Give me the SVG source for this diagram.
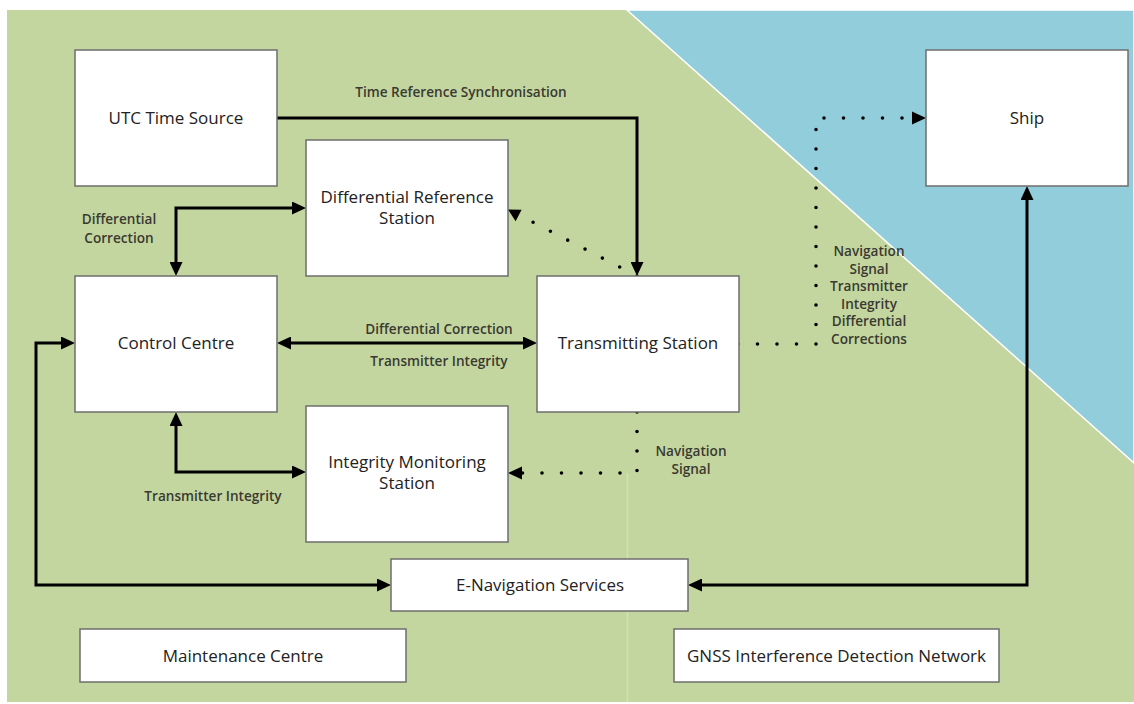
<svg xmlns="http://www.w3.org/2000/svg" width="1134" height="704" viewBox="0 0 1134 704">
<defs>
<style>
.box{fill:#ffffff;stroke:#6e6e6e;stroke-width:1.5}
.nt{font-family:"Open Sans","Liberation Sans",sans-serif;font-size:17px;fill:#222222;text-anchor:middle}
.lb{font-family:"Open Sans","Liberation Sans",sans-serif;font-size:13.6px;font-weight:600;fill:#3a3a32;text-anchor:middle}
.solid{fill:none;stroke:#000000;stroke-width:3}
.dot{fill:none;stroke:#000000;stroke-width:3.6;stroke-linecap:round;stroke-dasharray:0 19.5}
</style>
<marker id="ah" markerUnits="userSpaceOnUse" markerWidth="15" markerHeight="13" refX="0" refY="6.5" orient="auto-start-reverse">
<path d="M0,0 L14,6.5 L0,13 z" fill="#000000"/>
</marker>
</defs>
<rect x="0" y="0" width="1134" height="704" fill="#ffffff"/>
<rect x="7" y="10" width="1127" height="692" fill="#c4d69f"/>
<polygon points="627,10 1134,10 1134,463" fill="#92cddc" stroke="#ffffff" stroke-width="1.5"/>
<line x1="627.5" y1="473" x2="627.5" y2="702" stroke="#d3e0b6" stroke-width="1.5"/>

<g id="connectors">
<path class="solid" d="M277,118 H637 V262" marker-end="url(#ah)"/>
<path class="solid" d="M176,262 V208 H292" marker-start="url(#ah)" marker-end="url(#ah)"/>
<path class="solid" d="M291,343 H523" marker-start="url(#ah)" marker-end="url(#ah)"/>
<path class="solid" d="M176,426 V472 H292" marker-start="url(#ah)" marker-end="url(#ah)"/>
<path class="solid" d="M61,343 H36 V585 H377" marker-start="url(#ah)" marker-end="url(#ah)"/>
<path class="solid" d="M702,585 H1027 V200" marker-start="url(#ah)" marker-end="url(#ah)"/>
<path class="dot" d="M637,276 L521,216"/>
<polygon points="508,209.5 521.6,209.8 515.6,221.3" fill="#000000"/>
<path class="dot" d="M637,412 V473 H522"/>
<polygon points="508,473 522,466.5 522,479.5" fill="#000000"/>
<path class="dot" d="M738,344 H816 V118 H904"/>
<polygon points="926,118 912,111.5 912,124.5" fill="#000000"/>
<text class="lb" x="461" y="97">Time Reference Synchronisation</text>
<text class="lb" x="119" y="224">Differential</text>
<text class="lb" x="119" y="243">Correction</text>
<text class="lb" x="439" y="334">Differential Correction</text>
<text class="lb" x="439" y="366">Transmitter Integrity</text>
<text class="lb" x="213" y="501">Transmitter Integrity</text>
<text class="lb" x="691" y="456">Navigation</text>
<text class="lb" x="691" y="474">Signal</text>
<text class="lb" x="869" y="256">Navigation</text>
<text class="lb" x="869" y="273.5">Signal</text>
<text class="lb" x="869" y="291">Transmitter</text>
<text class="lb" x="869" y="308.5">Integrity</text>
<text class="lb" x="869" y="326">Differential</text>
<text class="lb" x="869" y="344">Corrections</text>
</g>

<g id="utc">
<rect class="box" x="75" y="50" width="202" height="136"/>
<text class="nt" x="176" y="124">UTC Time Source</text>
</g>
<g id="diffref">
<rect class="box" x="306" y="140" width="202" height="136"/>
<text class="nt" x="407" y="203">Differential Reference</text>
<text class="nt" x="407" y="224">Station</text>
</g>
<g id="control">
<rect class="box" x="75" y="276" width="202" height="136"/>
<text class="nt" x="176" y="349">Control Centre</text>
</g>
<g id="transmitting">
<rect class="box" x="537" y="276" width="202" height="136"/>
<text class="nt" x="638" y="349">Transmitting Station</text>
</g>
<g id="integrity">
<rect class="box" x="306" y="406" width="202" height="136"/>
<text class="nt" x="407" y="468">Integrity Monitoring</text>
<text class="nt" x="407" y="489">Station</text>
</g>
<g id="ship">
<rect class="box" x="926" y="50" width="202" height="136"/>
<text class="nt" x="1027" y="124">Ship</text>
</g>
<g id="enav">
<rect class="box" x="391" y="559" width="297" height="52"/>
<text class="nt" x="540" y="591" textLength="168" lengthAdjust="spacingAndGlyphs">E-Navigation Services</text>
</g>
<g id="maintenance">
<rect class="box" x="80" y="629" width="326" height="53"/>
<text class="nt" x="243" y="662">Maintenance Centre</text>
</g>
<g id="gnss">
<rect class="box" x="674" y="629" width="325" height="53"/>
<text class="nt" x="836.5" y="662" textLength="299" lengthAdjust="spacingAndGlyphs">GNSS Interference Detection Network</text>
</g>
</svg>
